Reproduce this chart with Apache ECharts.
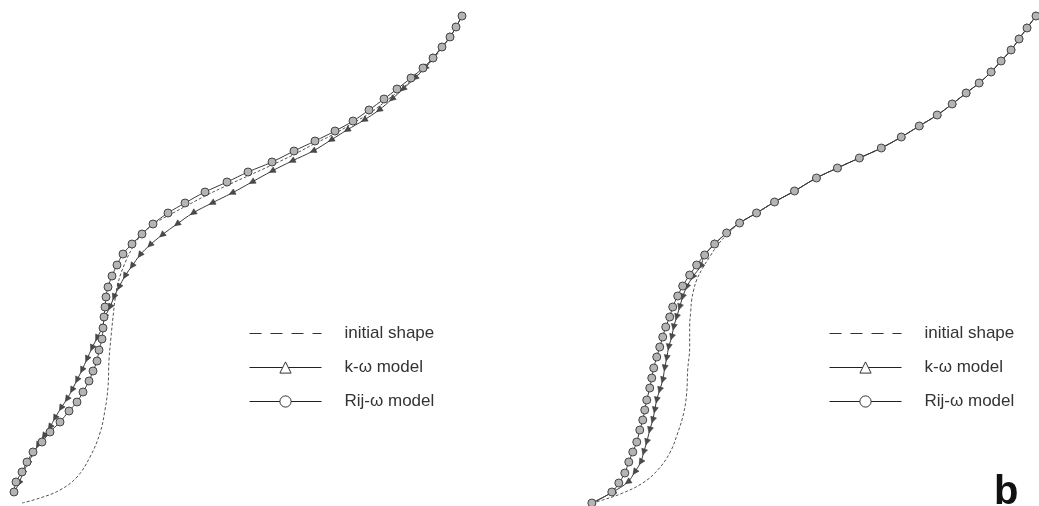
<!DOCTYPE html>
<html>
<head>
<meta charset="utf-8">
<script src="https://cdn.jsdelivr.net/npm/echarts@6/dist/echarts.min.js"></script>
<style>
  html, body { margin: 0; padding: 0; background: #fff; }
  #chart { width: 1039px; height: 506px; }
</style>
</head>
<body>
<div id="chart"></div>
<script>
// Profile coordinates: x across the panel, y downward (inverted axis), same units on both axes.
// Panel (a) – left
const leftInitial = [[22,503],[40,498],[60,490],[77,477],[90,457],[100,433],[105,410],[108,387],[109,360],[111,337],[113,317],[115,300],[118,283],[125,263],[133,247],[143,233],[157,222],[173,213],[188,205],[207,195],[228,185],[250,175],[272,165],[293,155],[314,144],[334,134],[353,123],[370,113],[386,101],[400,90],[413,79],[424,69],[434,58],[442,48],[450,37],[456,27],[462,16]];
const leftKOmega = [[14,493],[19,483],[23,473],[28,463],[33,454],[38,445],[44,436],[50,427],[55,418],[61,408],[67,399],[72,390],[77,380],[82,370],[87,359],[92,348],[97,338],[102,328],[105,317],[110,307],[114,297],[119,287],[125,276],[132,266],[140,255],[150,245],[162,235],[177,224],[193,213],[212,203],[232,193],[252,182],[272,171],[292,161],[313,151],[331,140],[347,130],[364,120],[379,110],[392,99],[403,89],[415,78],[425,68],[433,58],[441,48],[450,37],[456,27],[462,16]];
const leftRijOmega = [[14,492],[16,482],[22,472],[27,462],[33,452],[42,442],[50,432],[60,422],[69,411],[77,402],[83,392],[89,381],[93,371],[97,361],[99,350],[102,339],[103,328],[104,317],[105,307],[106,297],[108,287],[112,276],[117,265],[123,254],[132,244],[142,234],[153,224],[168,213],[185,203],[205,192],[227,182],[248,172],[272,162],[294,151],[315,141],[335,131],[353,121],[369,110],[384,99],[397,89],[411,78],[423,68],[433,58],[442,47],[450,37],[456,27],[462,16]];

// Panel (b) – right: the three profiles share the upper branch
const rightShared = [[185,255],[195,244],[207,233],[220,223],[237,213],[255,202],[275,191],[297,178],[318,168],[340,158],[362,148],[382,137],[400,126],[418,115],[433,104],[447,93],[460,83],[472,72],[482,61],[492,50],[500,39],[508,28],[517,16]];
const rightInitialLower = [[72,503],[83,500],[103,493],[123,483],[138,470],[150,453],[158,433],[164,413],[167,393],[168,370],[170,347],[170,325],[171,312],[172,300],[174,290],[177,280],[183,268],[190,257],[198,245],[208,234]];
const rightKOmegaLower = [[72,503],[93,492],[108,482],[115,472],[121,462],[124,452],[127,442],[130,430],[133,420],[135,410],[137,400],[140,390],[143,380],[145,368],[147,358],[149,347],[152,337],[154,327],[157,317],[160,307],[163,297],[167,287],[173,277],[181,266]];
const rightRijOmegaLower = [[72,503],[92,492],[99,483],[105,473],[109,462],[113,452],[117,442],[120,430],[123,420],[125,410],[127,400],[130,388],[132,378],[134,368],[137,357],[140,347],[143,337],[146,327],[150,317],[153,307],[158,296],[163,286],[170,275],[177,265]];

const seriesNames = ['initial shape', 'k-\u03c9 model', 'Rij-\u03c9 model'];

const rightInitial = rightInitialLower.concat(rightShared.slice(3));
const rightKOmega = rightKOmegaLower.concat(rightShared);
const rightRijOmega = rightRijOmegaLower.concat(rightShared);

const LINE = '#3a3a3a';

// Triangles are drawn as arrowheads pointing back along the profile
function arrowData(pts) {
  return pts.map(function (p, i) {
    const q = i > 0 ? pts[i - 1] : [2 * p[0] - pts[1][0], 2 * p[1] - pts[1][1]];
    const dx = q[0] - p[0];
    const dy = q[1] - p[1];
    const theta = Math.atan2(-dy, dx) * 180 / Math.PI;
    return { value: p, symbolRotate: theta - 90 };
  });
}

function panelSeries(idx, initial, kOmega, rij) {
  return [
    {
      name: seriesNames[0], type: 'line', xAxisIndex: idx, yAxisIndex: idx,
      data: initial, smooth: 0.4, showSymbol: false, symbol: 'none',
      itemStyle: { color: '#555' },
      lineStyle: { color: '#555', width: 1, type: [3, 2] }, z: 2
    },
    {
      name: seriesNames[1], type: 'line', xAxisIndex: idx, yAxisIndex: idx,
      data: arrowData(kOmega), smooth: 0.4,
      symbol: 'triangle', symbolSize: 6,
      itemStyle: { color: '#4a4a4a', borderColor: '#333', borderWidth: 0.5 },
      lineStyle: { color: LINE, width: 1 }, z: 3
    },
    {
      name: seriesNames[2], type: 'line', xAxisIndex: idx, yAxisIndex: idx,
      data: rij, smooth: 0.4,
      symbol: 'circle', symbolSize: 8,
      itemStyle: { color: '#b4b4b4', borderColor: '#444', borderWidth: 1 },
      lineStyle: { color: LINE, width: 1 }, z: 4
    }
  ];
}

function legendFor(left) {
  return {
    orient: 'vertical', left: left, top: 320,
    itemWidth: 72, itemHeight: 14, itemGap: 17,
    selectedMode: false,
    textStyle: { fontSize: 17, color: '#333', fontFamily: 'Liberation Sans', padding: [0, 0, 0, 18] },
    data: [
      { name: seriesNames[0], itemStyle: { opacity: 0, color: 'rgba(0,0,0,0)', borderWidth: 0 }, lineStyle: { type: [12, 9], color: '#333', width: 1 } },
      { name: seriesNames[1], itemStyle: { color: '#fff', borderColor: '#333', borderWidth: 1 }, lineStyle: { color: '#222', width: 1 } },
      { name: seriesNames[2], itemStyle: { color: '#fff', borderColor: '#333', borderWidth: 1 }, lineStyle: { color: '#222', width: 1 } }
    ]
  };
}

const hiddenX = { type: 'value', min: 0, max: 520, show: false };
const hiddenY = { type: 'value', min: 0, max: 506, inverse: true, show: false };

const chart = echarts.init(document.getElementById('chart'), null, { renderer: 'canvas' });
chart.setOption({
  animation: false,
  backgroundColor: '#fff',
  title: {
    text: 'b', left: 989, top: 468,
    textStyle: { fontSize: 40, fontWeight: 'bold', color: '#111', fontFamily: 'Liberation Sans' }
  },
  grid: [
    { left: 0, top: 0, width: 520, height: 506 },
    { left: 520, top: 0, width: 520, height: 506 }
  ],
  xAxis: [Object.assign({ gridIndex: 0 }, hiddenX), Object.assign({ gridIndex: 1 }, hiddenX)],
  yAxis: [Object.assign({ gridIndex: 0 }, hiddenY), Object.assign({ gridIndex: 1 }, hiddenY)],
  legend: [legendFor(244), legendFor(824)],
  series: panelSeries(0, leftInitial, leftKOmega, leftRijOmega)
    .concat(panelSeries(1, rightInitial, rightKOmega, rightRijOmega))
});
</script>
</body>
</html>
